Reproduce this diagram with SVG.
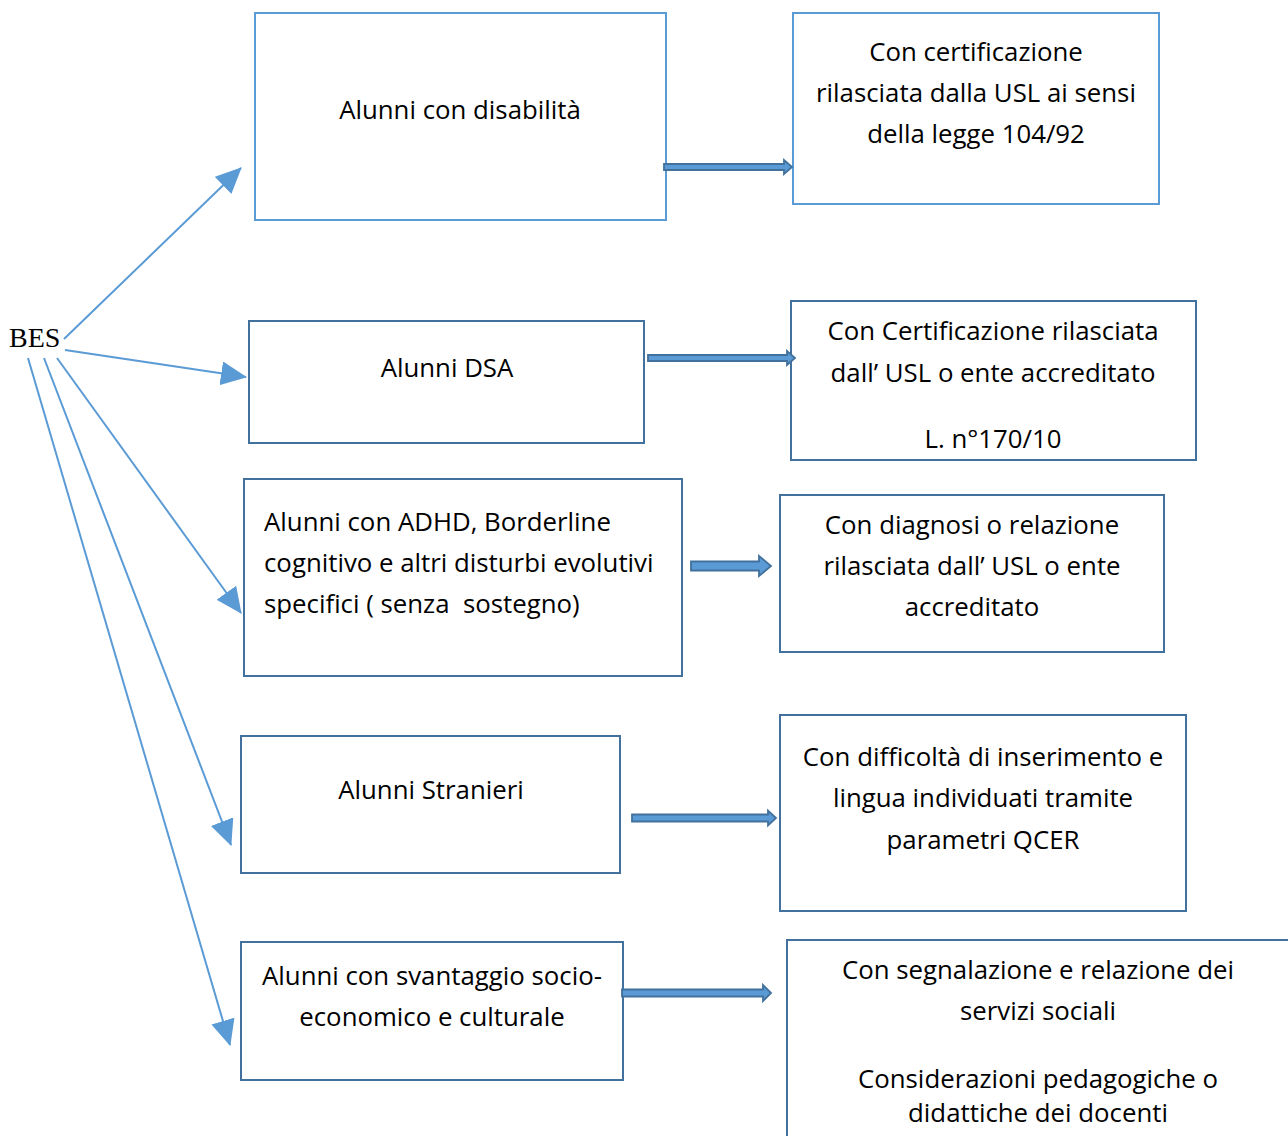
<svg xmlns="http://www.w3.org/2000/svg" width="1288" height="1136" viewBox="0 0 1288 1136">
<defs>
<marker id="tri" viewBox="0 0 26 24" refX="25" refY="12" markerWidth="26" markerHeight="24" markerUnits="userSpaceOnUse" orient="auto">
<path d="M0,0 L26,12 L0,24 z" fill="#5B9BD5"/>
</marker>
<style>
.bl{fill:#fff;stroke:#5B9BD5;stroke-width:2}
.bd{fill:#fff;stroke:#41719C;stroke-width:2}
.t{font-family:"Open Sans","Liberation Sans",sans-serif;font-size:25.8px;fill:#000}
.c{text-anchor:middle}
.thin{stroke:#5B9BD5;stroke-width:2;fill:none;marker-end:url(#tri)}
.blk{fill:#5B9BD5;stroke:#41719C;stroke-width:1.8}
</style>
</defs>
<rect width="1288" height="1136" fill="#fff"/>
<g id="bes"><text x="9" y="347" font-family="'Liberation Serif',serif" font-size="28">BES</text></g>
<g id="n1"><rect class="bl" x="255" y="13" width="411" height="207"/><text class="t c" x="460" y="119">Alunni con disabilità</text></g>
<g id="n1r"><rect class="bl" x="793" y="13" width="366" height="191"/>
<text class="t c" x="976" y="61">Con certificazione</text>
<text class="t c" x="976" y="102">rilasciata dalla USL ai sensi</text>
<text class="t c" x="976" y="143">della legge 104/92</text></g>
<g id="n2"><rect class="bd" x="249" y="321" width="395" height="122"/><text class="t c" x="447" y="377">Alunni DSA</text></g>
<g id="n2r"><rect class="bd" x="791" y="301" width="405" height="159"/>
<text class="t c" x="993" y="340">Con Certificazione rilasciata</text>
<text class="t c" x="993" y="382">dall’ USL o ente accreditato</text>
<text class="t c" x="993" y="448">L. n°170/10</text></g>
<g id="n3"><rect class="bd" x="244" y="479" width="438" height="197"/>
<text class="t" x="264" y="531">Alunni con ADHD, Borderline</text>
<text class="t" x="264" y="572">cognitivo e altri disturbi evolutivi</text>
<text class="t" x="264" y="613" xml:space="preserve">specifici ( senza  sostegno)</text></g>
<g id="n3r"><rect class="bd" x="780" y="495" width="384" height="157"/>
<text class="t c" x="972" y="534">Con diagnosi o relazione</text>
<text class="t c" x="972" y="575">rilasciata dall’ USL o ente</text>
<text class="t c" x="972" y="616">accreditato</text></g>
<g id="n4"><rect class="bd" x="241" y="736" width="379" height="137"/><text class="t c" x="431" y="799">Alunni Stranieri</text></g>
<g id="n4r"><rect class="bd" x="780" y="715" width="406" height="196"/>
<text class="t c" x="983" y="766">Con difficoltà di inserimento e</text>
<text class="t c" x="983" y="807">lingua individuati tramite</text>
<text class="t c" x="983" y="849">parametri QCER</text></g>
<g id="n5"><rect class="bd" x="241" y="942" width="382" height="138"/>
<text class="t c" x="432" y="985">Alunni con svantaggio socio-</text>
<text class="t c" x="432" y="1026">economico e culturale</text></g>
<g id="n5r"><rect class="bd" x="787" y="940" width="520" height="220"/>
<text class="t c" x="1038" y="979">Con segnalazione e relazione dei</text>
<text class="t c" x="1038" y="1020">servizi sociali</text>
<text class="t c" x="1038" y="1088">Considerazioni pedagogiche o</text>
<text class="t c" x="1038" y="1122">didattiche dei docenti</text></g>
<g id="connectors">
<line class="thin" x1="64" y1="339" x2="241" y2="168"/>
<line class="thin" x1="65" y1="350" x2="246" y2="377"/>
<line class="thin" x1="57" y1="358" x2="241" y2="613"/>
<line class="thin" x1="44" y1="358" x2="231" y2="845"/>
<line class="thin" x1="28" y1="358" x2="230" y2="1045"/>
<polygon class="blk" points="664,164 784,164 784,160 792,167 784,174 784,170 664,170"/>
<polygon class="blk" points="648,355 787,355 787,351 795,358 787,365 787,361 648,361"/>
<polygon class="blk" points="691,561.5 759,561.5 759,556 771,566 759,576 759,570.5 691,570.5"/>
<polygon class="blk" points="632,814.5 768,814.5 768,810.5 776,818 768,825.5 768,821.5 632,821.5"/>
<polygon class="blk" points="622,989.5 763,989.5 763,985 771,993 763,1001 763,996.5 622,996.5"/>
</g>
</svg>
